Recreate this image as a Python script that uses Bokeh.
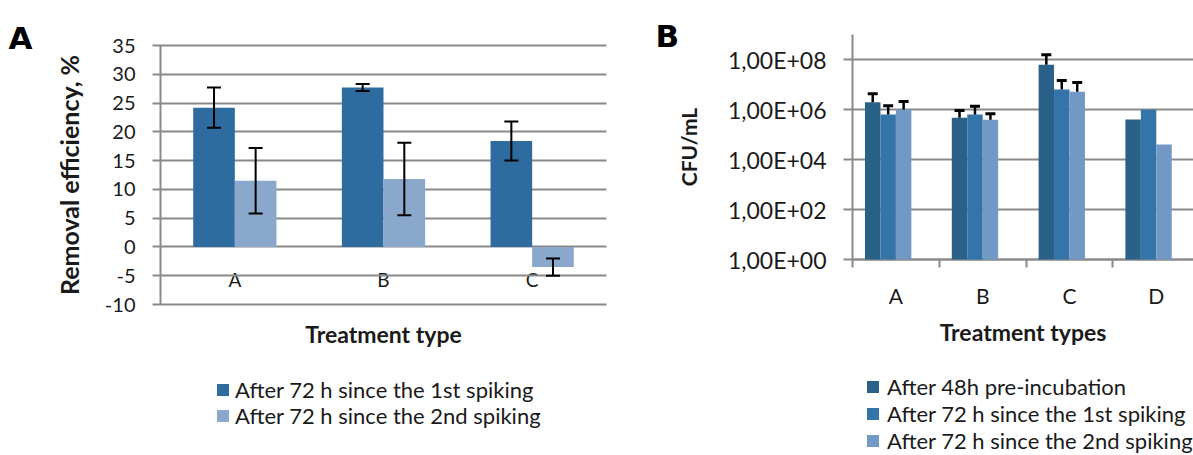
from bokeh.plotting import figure
from bokeh.models import (ColumnDataSource, Whisker, TeeHead, FixedTicker, Range1d,
                          LinearAxis, LogAxis, LogScale, Legend, LegendItem, Label)
from bokeh.embed import file_html
from bokeh.resources import INLINE

# ---- Panel A: removal efficiency (%) ----
treatments_a = ["A", "B", "C"]
series_a = ["After 72 h since the 1st spiking", "After 72 h since the 2nd spiking"]
removal_1st = [24.2, 27.7, 18.4]
removal_1st_sd = [3.5, 0.6, 3.4]
removal_2nd = [11.5, 11.8, -3.5]
removal_2nd_sd = [5.7, 6.3, 1.5]
removal_ticks = [-10, -5, 0, 5, 10, 15, 20, 25, 30, 35]

# ---- Panel B: bacterial counts (CFU/mL) ----
treatments_b = ["A", "B", "C", "D"]
series_b = ["After 48h pre-incubation", "After 72 h since the 1st spiking",
            "After 72 h since the 2nd spiking"]
cfu_pre = [1.95e6, 4.7e5, 6.2e7, 4.0e5]
cfu_pre_sd = [2.3e6, 4.4e5, 9.3e7, 0]
cfu_1st = [6.3e5, 6.3e5, 6.3e6, 9.8e5]
cfu_1st_sd = [7.8e5, 7.2e5, 8.2e6, 0]
cfu_2nd = [1.0e6, 3.9e5, 5.1e6, 4.0e4]
cfu_2nd_sd = [1.1e6, 2.9e5, 6.9e6, 0]
cfu_ticks = [1, 100, 10**4, 10**6, 10**8]
cfu_tick_labels = ["1,00E+00", "1,00E+02", "1,00E+04", "1,00E+06", "1,00E+08"]

FONT = "Lato"
GRID = "#898989"
TXT = "#1a1a1a"
colors_a = ["#2E6C9F", "#8AA8CB"]
colors_b = ["#2A6189", "#3374A9", "#7299C5"]

# ---- canvas geometry (pixels) ----
W, H = 1193, 455
# panel A plotting box
A_LEFT, A_RIGHT, A_TOP, A_BOTTOM = 160, 606, 45, 304
A_YMIN, A_YMAX = -10, 35
# panel B plotting box
B_LEFT, B_TOP, B_BOTTOM, B_UNIT = 852, 34, 259, 86.8
B_DECADES = 9

a_unit = (A_RIGHT - A_LEFT) / len(treatments_a)
a_scale = (A_BOTTOM - A_TOP) / (A_YMAX - A_YMIN)
b_scale = (B_BOTTOM - B_TOP) / B_DECADES

p = figure(width=W, height=H, output_backend="svg", toolbar_location=None,
           x_range=Range1d(-A_LEFT / a_unit, (W - A_LEFT) / a_unit),
           y_range=Range1d(A_YMIN - (H - A_BOTTOM) / a_scale, A_YMAX + A_TOP / a_scale),
           min_border=0, x_axis_type=None, y_axis_type=None)
p.outline_line_color = None
p.grid.visible = False
p.background_fill_color = "white"
p.border_fill_color = "white"

p.extra_x_ranges = {"b": Range1d(-B_LEFT / B_UNIT, (W - B_LEFT) / B_UNIT)}
p.extra_y_ranges = {"b": Range1d(10 ** (-(H - B_BOTTOM) / b_scale),
                                 10 ** (B_DECADES + B_TOP / b_scale))}
p.extra_y_scales = {"b": LogScale()}


def style_axis(ax, tick_size):
    ax.level = "underlay"
    ax.major_label_text_font = FONT
    ax.major_label_text_color = TXT
    ax.major_label_text_font_size = tick_size
    ax.axis_label_text_font = FONT
    ax.axis_label_text_font_style = "bold"
    ax.axis_label_text_color = TXT
    ax.minor_tick_line_color = None


def make_legend(items, loc, spacing, standoff):
    return Legend(items=items, location=loc, orientation="vertical", padding=0, margin=0,
                  spacing=spacing, glyph_width=15, glyph_height=15, label_standoff=standoff,
                  label_height=20, label_text_font=FONT, label_text_font_size="22px",
                  label_text_color=TXT, border_line_color=None, background_fill_alpha=0)


# ================= Panel A =================
bar_w_a = 0.28
renderers_a = []
for k, (vals, sds) in enumerate([(removal_1st, removal_1st_sd), (removal_2nd, removal_2nd_sd)]):
    xs = [i + 0.5 + (k - 0.5) * bar_w_a for i in range(len(treatments_a))]
    src = ColumnDataSource(dict(x=xs, top=vals,
                                lo=[v - s for v, s in zip(vals, sds)],
                                hi=[v + s for v, s in zip(vals, sds)]))
    r = p.vbar(x="x", top="top", bottom=0, width=bar_w_a, source=src,
               fill_color=colors_a[k], line_color=None)
    renderers_a.append(r)
    p.add_layout(Whisker(source=src, base="x", lower="lo", upper="hi", level="overlay",
                         line_color="black", line_width=2,
                         upper_head=TeeHead(size=14, line_color="black", line_width=2),
                         lower_head=TeeHead(size=14, line_color="black", line_width=2)))

# value axis; its long inward ticks form the horizontal gridlines
ya = LinearAxis(fixed_location=0, bounds=(A_YMIN, A_YMAX),
                ticker=FixedTicker(ticks=removal_ticks))
style_axis(ya, "20px")
ya.major_label_overrides = {t: str(t) for t in removal_ticks}
ya.axis_line_color = GRID
ya.axis_line_width = 2
ya.major_tick_line_color = GRID
ya.major_tick_line_width = 2
ya.major_tick_out = 8
ya.major_tick_in = A_RIGHT - A_LEFT
ya.major_label_standoff = 17
ya.axis_label = "Removal efficiency, %"
ya.axis_label_text_font_size = "25px"
ya.axis_label_standoff = 18
p.add_layout(ya, "left")

xa = LinearAxis(fixed_location=0, bounds=(0, len(treatments_a)),
                ticker=FixedTicker(ticks=[i + 0.5 for i in range(len(treatments_a))]))
style_axis(xa, "19px")
xa.major_label_overrides = {i + 0.5: t for i, t in enumerate(treatments_a)}
xa.axis_line_color = None
xa.major_tick_line_color = None
xa.major_tick_out = 0
xa.major_tick_in = 0
xa.major_label_standoff = 21
xa.axis_label = "Treatment type"
xa.axis_label_text_font_size = "23px"
xa.axis_label_standoff = 26
p.add_layout(xa, "below")

# panel A key: one row per series
for k, y_loc in enumerate([52, 26]):
    p.add_layout(make_legend([LegendItem(label=series_a[k], renderers=[renderers_a[k]])],
                             (215, y_loc), 0, 5))

p.add_layout(Label(x=8, y=H - 37, x_units="screen", y_units="screen", text="A",
                   text_font="DejaVu Sans", text_font_style="bold",
                   text_font_size="31px", text_color="black", text_baseline="alphabetic"))

# ================= Panel B =================
bar_w_b = 0.178
offsets_b = [-1.5, -0.5, 0.5]
renderers_b = []
for k, (vals, sds) in enumerate([(cfu_pre, cfu_pre_sd), (cfu_1st, cfu_1st_sd), (cfu_2nd, cfu_2nd_sd)]):
    xs = [i + 0.5 + offsets_b[k] * bar_w_b for i in range(len(treatments_b))]
    src = ColumnDataSource(dict(x=xs, top=vals))
    r = p.vbar(x="x", top="top", bottom=1, width=bar_w_b, source=src,
               fill_color=colors_b[k], line_color=None,
               x_range_name="b", y_range_name="b")
    renderers_b.append(r)
    ex = [x for x, s in zip(xs, sds) if s > 0]
    ev = [v for v, s in zip(vals, sds) if s > 0]
    es = [s for s in sds if s > 0]
    esrc = ColumnDataSource(dict(x=ex, lo=ev, hi=[v + s for v, s in zip(ev, es)]))
    p.add_layout(Whisker(source=esrc, base="x", lower="lo", upper="hi", level="overlay",
                         x_range_name="b", y_range_name="b",
                         line_color="black", line_width=2.5,
                         upper_head=TeeHead(size=10, line_color="black", line_width=3),
                         lower_head=None))

yb = LogAxis(fixed_location=0, bounds=(1, 10 ** B_DECADES),
             x_range_name="b", y_range_name="b",
             ticker=FixedTicker(ticks=cfu_ticks))
style_axis(yb, "23px")
yb.major_label_overrides = dict(zip(cfu_ticks, cfu_tick_labels))
yb.axis_line_color = GRID
yb.axis_line_width = 2
yb.major_tick_line_color = GRID
yb.major_tick_line_width = 2
yb.major_tick_out = 9
yb.major_tick_in = W - B_LEFT
yb.major_label_standoff = 17
yb.axis_label = "CFU/mL"
yb.axis_label_text_font_size = "21px"
yb.axis_label_standoff = 24
p.add_layout(yb, "left")

xb = LinearAxis(fixed_location=1, bounds=(0, (W - B_LEFT) / B_UNIT),
                x_range_name="b", y_range_name="b",
                ticker=FixedTicker(ticks=[i + 0.5 for i in range(len(treatments_b))],
                                   minor_ticks=list(range(len(treatments_b)))))
style_axis(xb, "21px")
xb.major_label_overrides = {i + 0.5: t for i, t in enumerate(treatments_b)}
xb.axis_line_color = GRID
xb.axis_line_width = 2
xb.major_tick_line_color = None
xb.major_tick_out = 0
xb.major_tick_in = 0
xb.minor_tick_line_color = GRID
xb.minor_tick_line_width = 2
xb.minor_tick_out = 8
xb.minor_tick_in = 0
xb.major_label_standoff = 15
xb.axis_label = "Treatment types"
xb.axis_label_text_font_size = "23px"
xb.axis_label_standoff = 7
p.add_layout(xb, "below")

p.add_layout(make_legend([LegendItem(label=series_b[k], renderers=[renderers_b[k]]) for k in range(3)],
                         (865, 1), 0, 7))

p.add_layout(Label(x=655, y=H - 35, x_units="screen", y_units="screen", text="B",
                   text_font="DejaVu Sans", text_font_style="bold",
                   text_font_size="31px", text_color="black", text_baseline="alphabetic"))

open("out.html", "w").write(file_html(p, INLINE))
